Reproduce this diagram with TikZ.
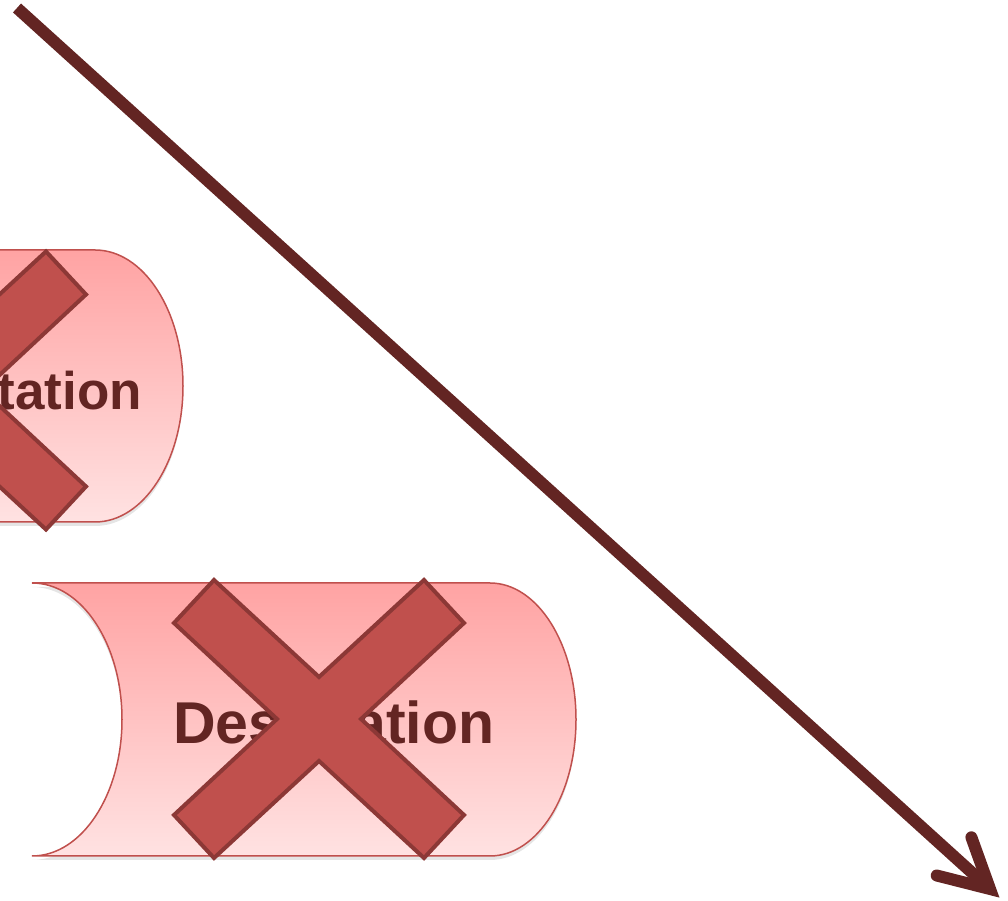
\documentclass[tikz,border=0pt]{standalone}
\usepackage{fontspec}
\setmainfont{Liberation Sans}
\definecolor{shapeedge}{HTML}{C0504D}
\definecolor{xfill}{HTML}{C0504D}
\definecolor{xedge}{HTML}{8C3836}
\definecolor{darkbrown}{HTML}{632523}
\definecolor{gradtop}{HTML}{FFA3A3}
\definecolor{gradbot}{HTML}{FFE2E2}
\tikzset{
 cylshape/.style={draw=shapeedge, line width=1.5pt, top color=gradtop, bottom color=gradbot},
 shadowshape/.style={fill=black, opacity=0.10},
 crossmark/.style={fill=xfill, draw=xedge, line width=4pt, line join=miter},
 textlabel/.style={text=darkbrown, font=\fontsize{59}{70}\selectfont\bfseries, inner sep=0pt},
 smalllabel/.style={text=darkbrown, font=\fontsize{53}{64}\selectfont\bfseries, inner sep=0pt},
 flow/.style={draw=darkbrown, line width=12pt}
}
\newcommand{\drawcrossmark}[1]{%
 \begin{scope}[shift={#1}]
 \path[crossmark] (0,42) -- (105,139) -- (145,96) -- (42,0) -- (145,-96) -- (105,-139) -- (0,-42) -- (-105,-139) -- (-145,-96) -- (-42,0) -- (-145,96) -- (-105,139) -- cycle;
 \end{scope}}
\begin{document}
\begin{tikzpicture}[x=1pt,y=1pt]
\useasboundingbox (0,0) rectangle (1008,901);
\clip (0,0) rectangle (1008,901);
% top shape (cut at left)
\path[shadowshape] (-300,647) -- (95,647) arc[start angle=90,end angle=-90,x radius=88,y radius=136] -- (-300,375) -- cycle;
\path[cylshape] (-300,651) -- (95,651) arc[start angle=90,end angle=-90,x radius=88,y radius=136] -- (-300,379) -- cycle;
\node[smalllabel, anchor=base east] (toplabel) at (142,491) {tation};
\drawcrossmark{(-59,510.5)}
% bottom shape
\path[shadowshape] (32,314) -- (490,314) arc[start angle=90,end angle=-90,x radius=86,y radius=136.5] -- (32,41) arc[start angle=-90,end angle=90,x radius=90,y radius=136.5] -- cycle;
\path[cylshape] (32,318) -- (490,318) arc[start angle=90,end angle=-90,x radius=86,y radius=136.5] -- (32,45) arc[start angle=-90,end angle=90,x radius=90,y radius=136.5] -- cycle;
\node[textlabel, anchor=base west] (botlabel) at (173,157) {Destination};
\drawcrossmark{(319,182)}
% arrow
\coordinate (astart) at (17,893);
\coordinate (atip) at (990,12);
\coordinate (aup) at (971.4,63.7);
\coordinate (alow) at (936.7,25.5);
\draw[flow] (astart) -- (atip);
\draw[flow, line cap=round, line join=miter] (aup) -- (atip) -- (alow);
\end{tikzpicture}
\end{document}
